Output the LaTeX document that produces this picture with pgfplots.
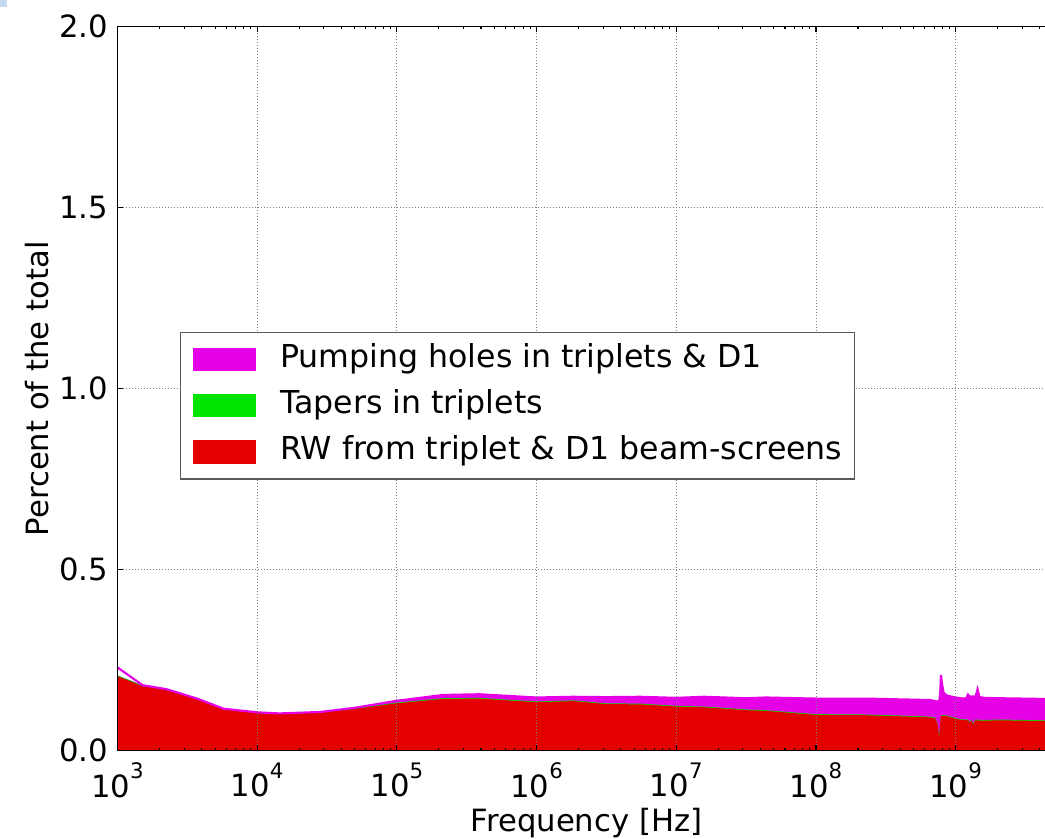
\documentclass[border=0pt]{standalone}
\usepackage{fontspec}
\setmainfont{DejaVu Sans}
\usepackage{pgfplots}
\pgfplotsset{compat=1.18}
\usepackage{pgfplotstable}
\definecolor{mred}{RGB}{229,0,0}
\definecolor{mmag}{RGB}{229,0,229}
\definecolor{mgreen}{RGB}{0,229,0}
\newcommand{\fs}{\fontsize{23}{27.6}\selectfont}
\newcommand{\lfs}{\fontsize{23.7}{28.4}\selectfont}
\newcommand{\dec}[1]{10\raisebox{13.8pt}{\fontsize{16}{16}\selectfont #1}}

% f: frequency [Hz]; rw: RW; rt: RW + tapers; tot: total (incl. pumping holes); fil: total used for fill
\pgfplotstableread{
f        rw     rt     tot    fil
1000     0.206  0.208  0.230  0.208
1514     0.178  0.180  0.181  0.181
2239     0.168  0.169  0.170  0.170
3715     0.142  0.143  0.144  0.144
5754     0.114  0.115  0.116  0.116
10000    0.104  0.105  0.106  0.106
14450    0.101  0.102  0.103  0.103
28180    0.105  0.106  0.107  0.107
48980    0.115  0.116  0.118  0.118
100000   0.131  0.133  0.138  0.138
213800   0.143  0.145  0.154  0.154
389000   0.144  0.146  0.156  0.156
1000000  0.134  0.136  0.147  0.147
1820000  0.137  0.139  0.149  0.149
3160000  0.129  0.131  0.148  0.148
5500000  0.128  0.130  0.149  0.149
1.0e7    0.122  0.124  0.146  0.146
1.585e7  0.120  0.122  0.149  0.149
3.16e7   0.112  0.114  0.145  0.145
4.37e7   0.110  0.112  0.147  0.147
1.0e8    0.099  0.101  0.144  0.144
2.29e8   0.098  0.100  0.144  0.144
5.01e8   0.094  0.096  0.141  0.141
6.6e8    0.092  0.094  0.140  0.140
7.11e8   0.090  0.092  0.137  0.137
7.40e8   0.075  0.077  0.136  0.136
7.64e8   0.036  0.038  0.138  0.138
7.75e8   0.080  0.082  0.160  0.160
7.85e8   0.095  0.097  0.209  0.209
7.98e8   0.096  0.098  0.185  0.185
8.2e8    0.096  0.098  0.160  0.160
8.7e8    0.095  0.097  0.152  0.152
1.0e9    0.088  0.090  0.147  0.147
1.13e9   0.084  0.086  0.144  0.144
1.19e9   0.085  0.087  0.145  0.145
1.225e9  0.083  0.085  0.155  0.155
1.265e9  0.077  0.079  0.148  0.148
1.29e9   0.084  0.086  0.150  0.150
1.336e9  0.073  0.075  0.150  0.150
1.38e9   0.084  0.086  0.147  0.147
1.435e9  0.084  0.086  0.170  0.170
1.48e9   0.083  0.085  0.148  0.148
1.62e9   0.083  0.085  0.146  0.146
2.07e9   0.084  0.086  0.145  0.145
4.36e9   0.082  0.084  0.143  0.143
}\data

\begin{document}
\begin{tikzpicture}
\useasboundingbox (-88.1pt,-66.2pt) rectangle (695.6pt,563pt);
\fill[color={rgb,255:red,198;green,217;blue,241}] (-88.1pt,563pt) rectangle ++(5.25pt,-5.25pt);
\begin{axis}[
  at={(0,0)}, anchor=south west,
  width=695.6pt, height=543pt, scale only axis,
  xmode=log, xmin=1e3, xmax=4.36e9, ymin=0, ymax=2,
  axis x line=box, axis y line=left,
  axis line style={-, line width=1pt, black},
  axis on top,
  tick align=inside,
  major tick length=4.2pt, minor tick length=2.1pt,
  every tick/.style={black, line width=0.8pt},
  xtick={1e3,1e4,1e5,1e6,1e7,1e8,1e9},
  xticklabels={\dec{3},\dec{4},\dec{5},\dec{6},\dec{7},\dec{8},\dec{9}},
  minor xtick={2e3,3e3,4e3,5e3,6e3,7e3,8e3,9e3,
               2e4,3e4,4e4,5e4,6e4,7e4,8e4,9e4,
               2e5,3e5,4e5,5e5,6e5,7e5,8e5,9e5,
               2e6,3e6,4e6,5e6,6e6,7e6,8e6,9e6,
               2e7,3e7,4e7,5e7,6e7,7e7,8e7,9e7,
               2e8,3e8,4e8,5e8,6e8,7e8,8e8,9e8,
               2e9,3e9,4e9},
  ytick={0,0.5,1,1.5,2},
  grid=major,
  major grid style={line width=0.6pt, gray, dash pattern=on 0.75pt off 1.5pt},
  xticklabel style={font=\fs, inner sep=0pt, anchor=north, yshift=-9pt},
  yticklabel style={font=\fs, inner sep=0pt, anchor=east, xshift=-6.9pt,
    /pgf/number format/.cd, fixed, fixed zerofill, precision=1, assume math mode=true},
  xlabel={Frequency [Hz]},
  ylabel={Percent of the total},
  every axis x label/.style={at={(axis description cs:0.5,0)}, anchor=base, yshift=-60.3pt, xshift=4pt, font=\fs, inner sep=0pt},
  every axis y label/.style={at={(axis description cs:-0.0746,0.5)}, rotate=90, anchor=base, font=\fs, inner sep=0pt},
  legend cell align=left,
  legend image code/.code={\fill[#1] (0pt,-8.75pt) rectangle (47.5pt,8.75pt);},
  legend style={at={(0.0671,0.5787)}, anchor=north west, draw=black!65, line width=1pt,
    fill=white, font=\lfs, inner xsep=9.2pt, inner ysep=8.5pt, row sep=11.2pt,
    nodes={inner sep=0pt, text height=17.5pt, text depth=6pt},
    /tikz/every odd column/.style={column sep=18.2pt}},
]
\addplot[draw=none, fill=mmag] table[x=f, y=fil] {\data} \closedcycle;
\addlegendentry{Pumping holes in triplets \& D1}
\addplot[draw=none, fill=mgreen] table[x=f, y=rt] {\data} \closedcycle;
\addlegendentry{Tapers in triplets}
\addplot[draw=none, fill=mred] table[x=f, y=rw] {\data} \closedcycle;
\addlegendentry{RW from triplet \& D1 beam-screens}
\addplot[forget plot, mmag, line width=1.6pt] table[x=f, y=tot] {\data};
\end{axis}
\end{tikzpicture}
\end{document}
